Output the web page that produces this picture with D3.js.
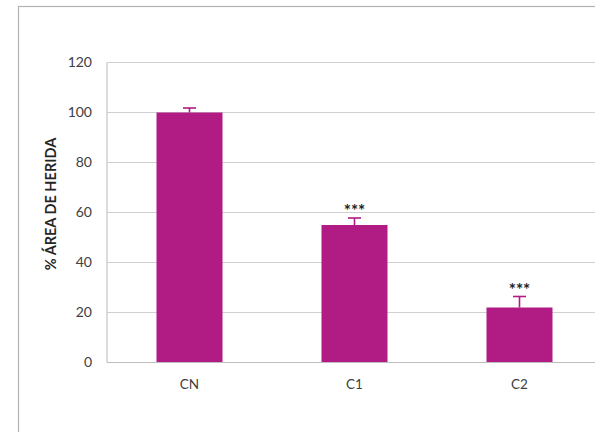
<!DOCTYPE html>
<html>
<head>
<meta charset="utf-8">
<script src="https://cdn.jsdelivr.net/npm/d3@7"></script>
<style>
  html, body { margin: 0; padding: 0; background: #fff; overflow: hidden; }
  svg { display: block; font-family: Lato, "Open Sans", sans-serif; }
</style>
</head>
<body>
<svg id="chart" width="595" height="432"></svg>
<script>
// Wound area remaining (% of control) per treatment
const categories = ["CN", "C1", "C2"];
const values = [100, 55, 22];
const errors = [1.8, 2.8, 4.4];
const significance = ["", "***", "***"];
const yTicks = [0, 20, 40, 60, 80, 100, 120];

const svg = d3.select("#chart");

const plot = { left: 107, top: 62.5, right: 602, bottom: 362.5 };

// chart frame
svg.append("rect")
  .attr("x", 18.5).attr("y", 6.5)
  .attr("width", 700).attr("height", 700)
  .attr("fill", "#fff")
  .attr("stroke", "#b3b3b3").attr("stroke-width", 1.2);

const x = d3.scaleBand()
  .domain(categories)
  .range([plot.left, plot.right])
  .paddingInner(0.6)
  .paddingOuter(0.3);

const y = d3.scaleLinear()
  .domain([0, 120])
  .range([plot.bottom, plot.top]);

// horizontal gridlines
svg.append("g")
  .selectAll("line")
  .data(yTicks.filter(d => d > 0))
  .join("line")
  .attr("x1", plot.left).attr("x2", plot.right)
  .attr("y1", d => y(d)).attr("y2", d => y(d))
  .attr("stroke", "#d0d0d0").attr("stroke-width", 1.2);

// value axis line
svg.append("line")
  .attr("x1", plot.left).attr("x2", plot.left)
  .attr("y1", plot.top).attr("y2", plot.bottom)
  .attr("stroke", "#c4c4c4").attr("stroke-width", 1.2);

// bars
const barColor = "#b11b84";
svg.append("g")
  .selectAll("rect")
  .data(categories)
  .join("rect")
  .attr("x", d => x(d))
  .attr("width", x.bandwidth())
  .attr("y", (d, i) => y(values[i]))
  .attr("height", (d, i) => y(0) - y(values[i]))
  .attr("fill", barColor);

// upper error bars
const eb = svg.append("g").attr("stroke", barColor).attr("stroke-width", 1.6);
categories.forEach((c, i) => {
  const cx = x(c) + x.bandwidth() / 2;
  eb.append("line")
    .attr("x1", cx).attr("x2", cx)
    .attr("y1", y(values[i])).attr("y2", y(values[i] + errors[i]));
  eb.append("line")
    .attr("x1", cx - 6.5).attr("x2", cx + 6.5)
    .attr("y1", y(values[i] + errors[i])).attr("y2", y(values[i] + errors[i]));
});

// category axis line
svg.append("line")
  .attr("x1", plot.left).attr("x2", plot.right)
  .attr("y1", y(0)).attr("y2", y(0))
  .attr("stroke", "#bdbdbd").attr("stroke-width", 1.2);

// significance marks
svg.append("g")
  .selectAll("text")
  .data(categories)
  .join("text")
  .attr("x", d => x(d) + x.bandwidth() / 2)
  .attr("y", (d, i) => y(values[i] + errors[i]) - 1)
  .attr("text-anchor", "middle")
  .attr("font-size", 17)
  .attr("font-weight", "bold")
  .attr("fill", "#222")
  .text((d, i) => significance[i]);

// y tick labels
const yAxis = d3.axisLeft(y).tickValues(yTicks).tickSize(0).tickPadding(15);
svg.append("g")
  .attr("transform", `translate(${plot.left},0)`)
  .call(yAxis)
  .call(g => g.select(".domain").remove())
  .call(g => g.selectAll("text")
    .attr("font-family", "Lato, 'Open Sans', sans-serif")
    .attr("font-size", 14)
    .attr("fill", "#404040"));

// x tick labels
const xAxis = d3.axisBottom(x).tickSize(0).tickPadding(17);
svg.append("g")
  .attr("transform", `translate(0,${plot.bottom})`)
  .call(xAxis)
  .call(g => g.select(".domain").remove())
  .call(g => g.selectAll("text")
    .attr("font-family", "Lato, 'Open Sans', sans-serif")
    .attr("font-size", 13.5)
    .attr("fill", "#404040"));

// y axis title
svg.append("text")
  .attr("transform", "translate(56,204) rotate(-90)")
  .attr("text-anchor", "middle")
  .attr("font-size", 14.5)
  .attr("font-weight", "bold")
  .attr("fill", "#262626")
  .text("% ÁREA DE HERIDA");
</script>
</body>
</html>
